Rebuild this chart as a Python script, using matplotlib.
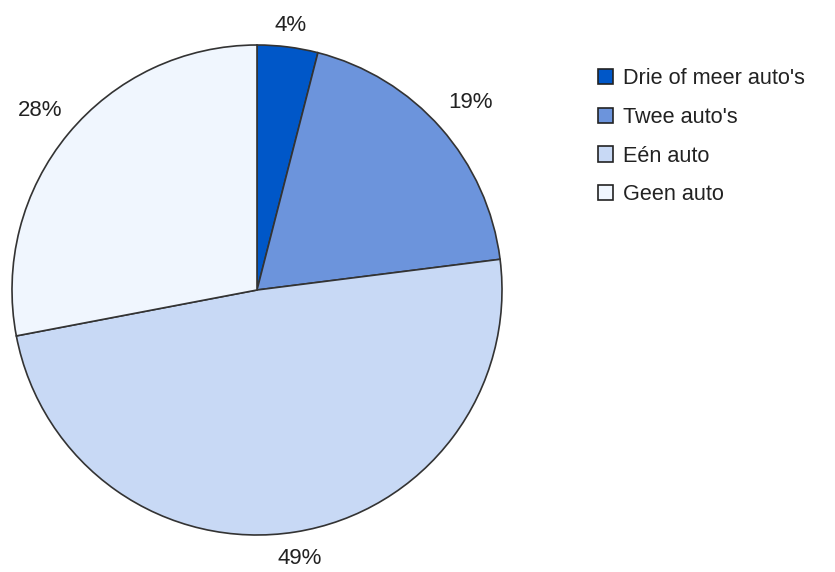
import numpy as np
import matplotlib.pyplot as plt
from matplotlib.patches import Patch

labels = ["Drie of meer auto's", "Twee auto's", "Eén auto", "Geen auto"]
shares = [4, 19, 49, 28]
colors = ["#0057C8", "#6C94DC", "#C8D9F5", "#F0F6FE"]
label_dist = [1.09, 1.16, 1.11, 1.15]

plt.rcParams['font.family'] = ['Liberation Sans', 'DejaVu Sans']

fig = plt.figure(figsize=(8.35, 5.72), dpi=100)
ax = fig.add_axes([12 / 835, 37 / 572, 490 / 835, 490 / 572])

wedges, texts, autotexts = ax.pie(
    shares, colors=colors, startangle=90, counterclock=False,
    autopct='%d%%', pctdistance=1.13,
    wedgeprops=dict(edgecolor='#333333', linewidth=1.2),
    textprops=dict(fontsize=16, color='#222222'),
)
# push each percentage out along its wedge's mid angle
for w, t, d in zip(wedges, autotexts, label_dist):
    ang = np.deg2rad((w.theta1 + w.theta2) / 2)
    t.set_position((d * np.cos(ang), d * np.sin(ang)))

ax.set_xlim(-1, 1)
ax.set_ylim(-1, 1)
ax.set_aspect('equal')

handles = [Patch(facecolor=c, edgecolor='#222222', linewidth=1.2) for c in colors]
fig.legend(handles, labels, loc='upper left', bbox_to_anchor=(0.693, 0.915),
           frameon=False, fontsize=15.6, handlelength=0.7, handleheight=0.7,
           handletextpad=0.45, labelspacing=0.82, labelcolor='#222222')

fig.savefig("out.png", dpi=100)
